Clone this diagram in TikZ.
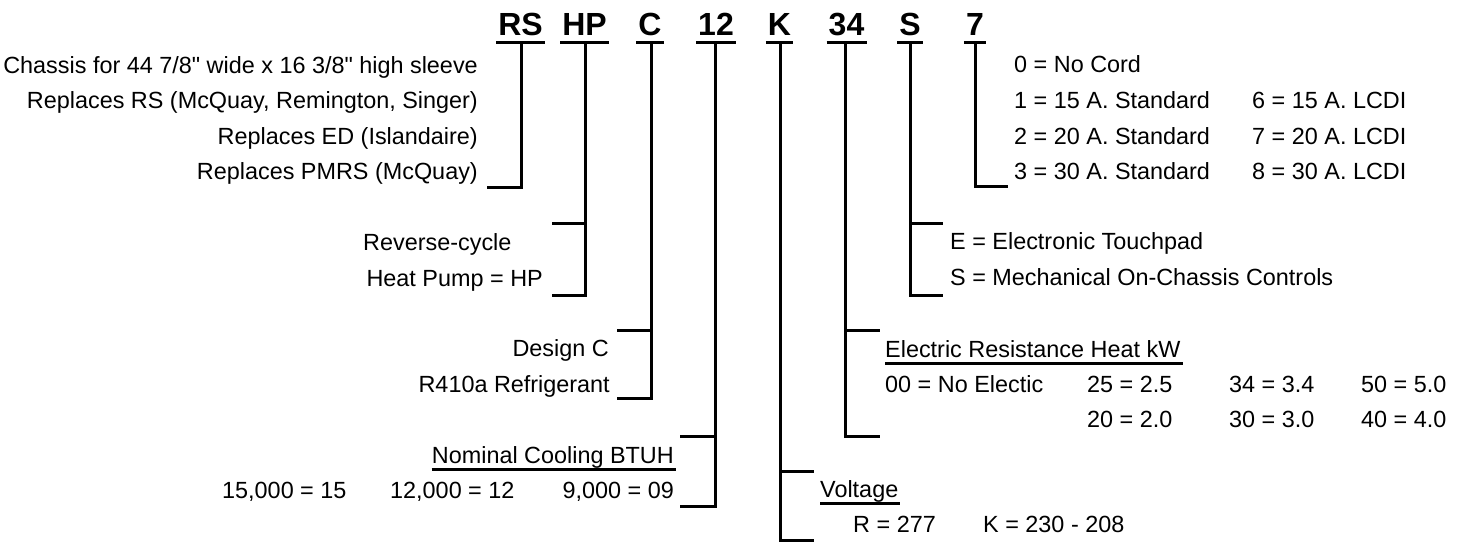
\documentclass[tikz,border=0pt]{standalone}
\usepackage{fontspec}
\setmainfont{Liberation Sans}
\usetikzlibrary{calc}
\begin{document}
\begin{tikzpicture}[x=1pt,y=-1pt,
  txt/.style={inner sep=0pt,font=\fontsize{23.4}{27}\selectfont},
  hdr/.style={inner sep=0pt,anchor=base,font=\fontsize{32}{36}\selectfont\bfseries},
  bar/.style={line width=3pt},
  uline/.style={line width=3pt}]
\useasboundingbox (0,0) rectangle (1463,542);
% header codes
\node[hdr] (rs) at (520.5,35) {RS};
\node[hdr] (hp) at (584.5,35) {HP};
\node[hdr] (c) at (650,35) {C};
\node[hdr] (n12) at (716,35) {12};
\node[hdr] (k) at (779.5,35) {K};
\node[hdr] (n34) at (846.5,35) {34};
\node[hdr] (s) at (910,35) {S};
\node[hdr] (n7) at (975,35) {7};
\foreach \n in {rs,hp,c,n12,k,n34,s,n7}
  \draw[uline] ($(\n.base west)+(-2,7)$) -- ($(\n.base east)+(2,7)$);
% bracket coordinates
\coordinate (rsT) at (521,43.5); \coordinate (rsB) at (521,187); \coordinate (rsE) at (487,187);
\coordinate (hpT) at (585,43.5); \coordinate (hpM) at (585,223); \coordinate (hpB) at (585,295);
\coordinate (hpME) at (552,223); \coordinate (hpBE) at (552,295);
\coordinate (cT) at (651,43.5); \coordinate (cM) at (651,330); \coordinate (cB) at (651,398);
\coordinate (cME) at (617,330); \coordinate (cBE) at (617,398);
\coordinate (dT) at (715,43.5); \coordinate (dM) at (715,436); \coordinate (dB) at (715,506);
\coordinate (dME) at (680,436); \coordinate (dBE) at (680,506);
\coordinate (kT) at (780,43.5); \coordinate (kM) at (780,471); \coordinate (kB) at (780,540);
\coordinate (kME) at (814,471); \coordinate (kBE) at (814,540);
\coordinate (eT) at (845,43.5); \coordinate (eM) at (845,330); \coordinate (eB) at (845,436);
\coordinate (eME) at (880,330); \coordinate (eBE) at (880,436);
\coordinate (sT) at (910,43.5); \coordinate (sM) at (910,223); \coordinate (sB) at (910,295);
\coordinate (sME) at (943,223); \coordinate (sBE) at (943,295);
\coordinate (pT) at (975,43.5); \coordinate (pB) at (975,186); \coordinate (pE) at (1008,186);
% brackets
\draw[bar] (rsT) -- (rsB) -- (rsE);
\draw[bar] (hpT) -- (hpB) -- (hpBE); \draw[bar] (hpM) -- (hpME);
\draw[bar] (cT) -- (cB) -- (cBE); \draw[bar] (cM) -- (cME);
\draw[bar] (dT) -- (dB) -- (dBE); \draw[bar] (dM) -- (dME);
\draw[bar] (kT) -- (kB) -- (kBE); \draw[bar] (kM) -- (kME);
\draw[bar] (eT) -- (eB) -- (eBE); \draw[bar] (eM) -- (eME);
\draw[bar] (sT) -- (sB) -- (sBE); \draw[bar] (sM) -- (sME);
\draw[bar] (pT) -- (pB) -- (pE);
% RS texts
\node[txt,anchor=base east] (rs1) at (478,73) {Chassis for 44 7/8\textquotedbl{} wide x 16 3/8\textquotedbl{} high sleeve};
\node[txt,anchor=base east] (rs2) at (478,108) {Replaces RS (McQuay, Remington, Singer)};
\node[txt,anchor=base east] (rs3) at (478,144) {Replaces ED (Islandaire)};
\node[txt,anchor=base east] (rs4) at (478,179) {Replaces PMRS (McQuay)};
% HP texts
\node[txt,anchor=base west] (hp1) at (363,250) {Reverse-cycle};
\node[txt,anchor=base east] (hp2) at (543,286) {Heat Pump = HP};
% C texts
\node[txt,anchor=base east] (c1) at (609,356) {Design C};
\node[txt,anchor=base east] (c2) at (610,392) {R410a Refrigerant};
% 12 texts
\node[txt,anchor=base east] (d0) at (674,463) {Nominal Cooling BTUH};
\draw[uline] ($(d0.base west)+(0,6)$) -- ($(d0.base east)+(2,6)$);
\node[txt,anchor=base west] (d1) at (222,498) {15,000 = 15};
\node[txt,anchor=base west] (d2) at (390,498) {12,000 = 12};
\node[txt,anchor=base east] (d3) at (674,498) {9,000 = 09};
% K texts
\node[txt,anchor=base west] (k0) at (820,497) {Voltage};
\draw[uline] ($(k0.base west)+(0,6)$) -- ($(k0.base east)+(2,6)$);
\node[txt,anchor=base west] (k1) at (853,532) {R = 277};
\node[txt,anchor=base west] (k2) at (983,532) {K = 230 - 208};
% 34 texts
\node[txt,anchor=base west] (e0) at (885,357) {Electric Resistance Heat kW};
\draw[uline] ($(e0.base west)+(0,6)$) -- ($(e0.base east)+(2,6)$);
\node[txt,anchor=base west] (e1) at (885,392) {00 = No Electic};
\node[txt,anchor=base west] (e2) at (1087,392) {25 = 2.5};
\node[txt,anchor=base west] (e3) at (1229,392) {34 = 3.4};
\node[txt,anchor=base west] (e4) at (1361,392) {50 = 5.0};
\node[txt,anchor=base west] (e5) at (1087,427) {20 = 2.0};
\node[txt,anchor=base west] (e6) at (1229,427) {30 = 3.0};
\node[txt,anchor=base west] (e7) at (1361,427) {40 = 4.0};
% S texts
\node[txt,anchor=base west] (s1) at (950,249) {E = Electronic Touchpad};
\node[txt,anchor=base west] (s2) at (950,285) {S = Mechanical On-Chassis Controls};
% 7 texts
\node[txt,anchor=base west] (p0) at (1014,72) {0 = No Cord};
\node[txt,anchor=base west] (p1) at (1014,108) {1 = 15 A. Standard};
\node[txt,anchor=base west] (p2) at (1014,144) {2 = 20 A. Standard};
\node[txt,anchor=base west] (p3) at (1014,179) {3 = 30 A. Standard};
\node[txt,anchor=base west] (p6) at (1252,108) {6 = 15 A. LCDI};
\node[txt,anchor=base west] (p7) at (1252,144) {7 = 20 A. LCDI};
\node[txt,anchor=base west] (p8) at (1252,179) {8 = 30 A. LCDI};
\end{tikzpicture}
\end{document}
